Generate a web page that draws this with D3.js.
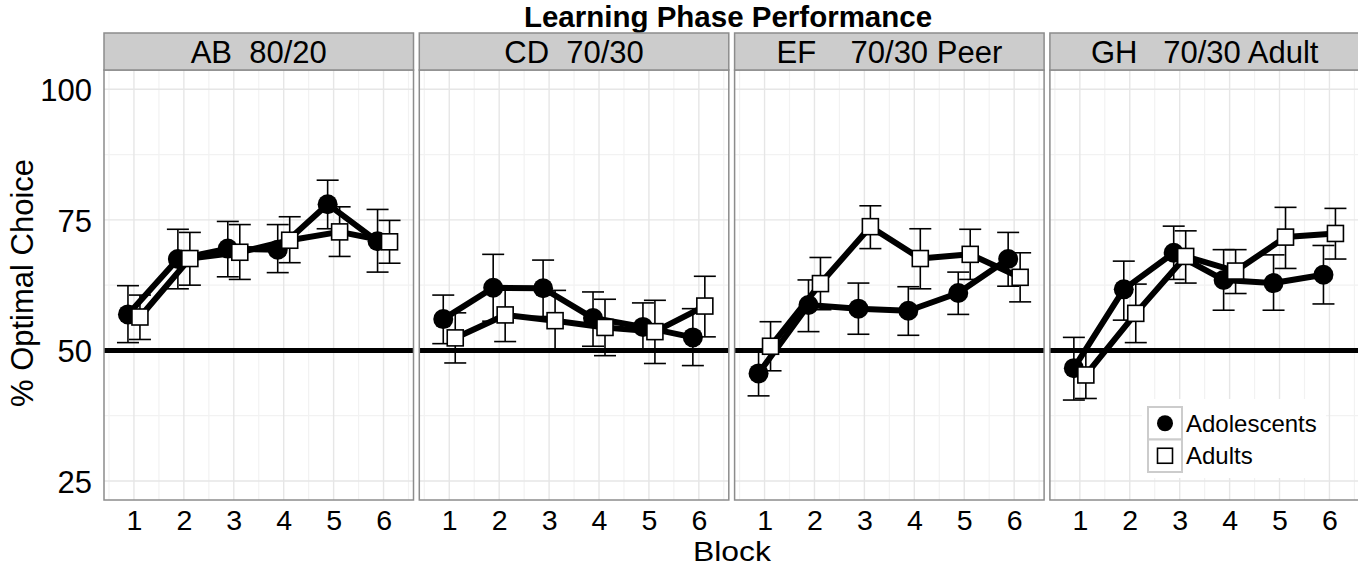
<!DOCTYPE html>
<html><head><meta charset="utf-8">
<script src="https://cdn.jsdelivr.net/npm/d3@7"></script>
<style>body{margin:0;background:#fff}text{font-family:"Liberation Sans",Arial,sans-serif}</style>
</head><body>
<svg id="c" width="1358" height="567"></svg>
<script>
const panels = ["AB  80/20", "CD  70/30", "EF    70/30 Peer", "GH   70/30 Adult"];
const blocks = [1, 2, 3, 4, 5, 6];
const yTicks = [25, 50, 75, 100];
const groups = ["Adolescents", "Adults"];
const adoMean = [[56.9,67.5,69.5,69.3,78.0,70.9],[56.0,62.0,61.9,56.2,54.5,52.5],[45.6,58.7,58.0,57.6,61.0,67.5],[46.6,61.7,68.7,63.5,62.9,64.5]];
const adoLo   = [[51.5,61.8,64.1,64.9,73.3,65.0],[51.3,55.6,56.5,50.8,49.9,47.1],[41.3,53.6,53.1,52.9,56.9,62.3],[40.5,55.8,63.6,57.7,57.7,58.9]];
const adoHi   = [[62.4,73.2,74.7,74.1,82.6,77.0],[60.6,68.4,67.3,61.2,59.1,58.0],[49.9,63.5,62.9,62.2,65.0,72.6],[52.5,67.1,73.8,69.3,68.3,70.1]];
const adultMean = [[56.4,67.6,68.8,71.1,72.7,70.8],[52.4,56.8,55.7,54.4,53.6,58.5],[50.8,62.8,73.7,67.6,68.4,64.0],[45.3,57.1,68.0,65.2,71.7,72.4]];
const adultLo   = [[52.1,62.5,63.6,66.8,68.0,66.7],[47.6,51.7,50.1,49.0,47.5,52.6],[46.1,57.8,69.5,61.8,63.6,59.3],[40.8,51.5,62.9,60.9,65.7,67.5]];
const adultHi   = [[60.6,72.6,74.1,75.6,77.5,74.9],[57.2,61.8,61.5,59.8,59.6,64.2],[55.5,67.8,77.7,73.3,73.2,68.7],[49.8,62.7,72.9,69.3,77.4,77.2]];
const chance = 50;

const svg = d3.select("#c");
const plotTop = 70, plotBottom = 500, stripTop = 33;
const pw = 309.5, step = 315.3, left0 = 104;
const y = d3.scaleLinear().domain([21.36, 103.7]).range([plotBottom, plotTop]);
const dodge = 0.12;

svg.append("text").attr("x", 728).attr("y", 27).attr("text-anchor", "middle")
  .attr("font-size", 29.5).attr("font-weight", "bold").text("Learning Phase Performance");

panels.forEach((name, p) => {
  const px = left0 + p * step;
  const x = d3.scaleLinear().domain([0.4, 6.6]).range([px, px + pw]);
  const g = svg.append("g");
  g.append("rect").attr("x", px).attr("y", plotTop).attr("width", pw).attr("height", plotBottom - plotTop).attr("fill", "#fff");
  const minorX = d3.range(0.5, 7, 1);
  const minorY = [37.5, 62.5, 87.5];
  g.selectAll(".mx").data(minorX).join("line").attr("x1", d => x(d)).attr("x2", d => x(d))
    .attr("y1", plotTop).attr("y2", plotBottom).attr("stroke", "#f2f2f2").attr("stroke-width", 1.2);
  g.selectAll(".my").data(minorY).join("line").attr("y1", d => y(d)).attr("y2", d => y(d))
    .attr("x1", px).attr("x2", px + pw).attr("stroke", "#f2f2f2").attr("stroke-width", 1.2);
  g.selectAll(".gx").data(blocks).join("line").attr("x1", d => x(d)).attr("x2", d => x(d))
    .attr("y1", plotTop).attr("y2", plotBottom).attr("stroke", "#e6e6e6").attr("stroke-width", 1.4);
  g.selectAll(".gy").data(yTicks).join("line").attr("y1", d => y(d)).attr("y2", d => y(d))
    .attr("x1", px).attr("x2", px + pw).attr("stroke", "#e6e6e6").attr("stroke-width", 1.4);

  if (p === panels.length - 1) {
    g.append("rect").attr("x", 1142).attr("y", 399).attr("width", 184).attr("height", 79).attr("fill", "#fff");
  }

  g.append("line").attr("x1", px).attr("x2", px + pw).attr("y1", y(chance)).attr("y2", y(chance))
    .attr("stroke", "#000").attr("stroke-width", 5);

  const series = [
    {mean: adoMean[p], lo: adoLo[p], hi: adoHi[p], off: -dodge, shape: "circle"},
    {mean: adultMean[p], lo: adultLo[p], hi: adultHi[p], off: dodge, shape: "square"}
  ];
  const line = d3.line().x(d => x(d[0])).y(d => y(d[1]));
  series.forEach(s => {
    g.append("path").datum(blocks.map((b, i) => [b + s.off, s.mean[i]]))
      .attr("d", line).attr("fill", "none").attr("stroke", "#000").attr("stroke-width", 6).attr("stroke-linejoin", "round");
  });
  series.forEach(s => {
    blocks.forEach((b, i) => {
      const cx = x(b + s.off);
      g.append("line").attr("x1", cx).attr("x2", cx).attr("y1", y(s.lo[i])).attr("y2", y(s.hi[i]))
        .attr("stroke", "#000").attr("stroke-width", 1.6);
      [s.lo[i], s.hi[i]].forEach(v => {
        g.append("line").attr("x1", cx - 11).attr("x2", cx + 11).attr("y1", y(v)).attr("y2", y(v))
          .attr("stroke", "#000").attr("stroke-width", 1.6);
      });
    });
  });
  series.forEach(s => {
    blocks.forEach((b, i) => {
      const cx = x(b + s.off), cy = y(s.mean[i]);
      if (s.shape === "circle") {
        g.append("circle").attr("cx", cx).attr("cy", cy).attr("r", 10).attr("fill", "#000");
      } else {
        g.append("rect").attr("x", cx - 8).attr("y", cy - 8).attr("width", 16).attr("height", 16)
          .attr("fill", "#fff").attr("stroke", "#000").attr("stroke-width", 1.6);
      }
    });
  });

  g.append("rect").attr("x", px).attr("y", plotTop).attr("width", pw).attr("height", plotBottom - plotTop)
    .attr("fill", "none").attr("stroke", "#8c8c8c").attr("stroke-width", 1.5);
  g.append("rect").attr("x", px).attr("y", stripTop).attr("width", pw).attr("height", plotTop - stripTop)
    .attr("fill", "#cccccc").attr("stroke", "#8c8c8c").attr("stroke-width", 1.5);
  g.append("text").attr("x", px + pw / 2).attr("y", 63).attr("text-anchor", "middle")
    .attr("font-size", 31).style("white-space", "pre").text(name);

  const xa = d3.axisBottom(x).tickValues(blocks).tickSize(0).tickPadding(0).tickFormat(d3.format("d"));
  const ax = g.append("g").attr("transform", `translate(0,${plotBottom})`).call(xa);
  ax.select(".domain").remove();
  ax.selectAll("text").attr("font-size", 28.5).attr("fill", "#000").attr("dy", null).attr("y", 29.5)
    .style("font-family", '"Liberation Sans",Arial,sans-serif');
});

const ya = d3.axisLeft(y).tickValues(yTicks).tickSize(0).tickPadding(0);
const ay = svg.append("g").attr("transform", `translate(92,0)`).call(ya);
ay.select(".domain").remove();
ay.selectAll("text").attr("font-size", 31).attr("fill", "#000").attr("dy", "0.36em")
  .style("font-family", '"Liberation Sans",Arial,sans-serif');

svg.append("text").attr("transform", "translate(732,561) scale(1.12,1)").attr("text-anchor", "middle")
  .attr("font-size", 28.5).text("Block");
svg.append("text").attr("transform", "translate(33,283) rotate(-90)").attr("text-anchor", "middle")
  .attr("font-size", 31).text("% Optimal Choice");

const lg = svg.append("g");
const keyX = 1148, keyY = 407, keyW = 34, keyH = 32.5;
groups.forEach((gname, i) => {
  const ky = keyY + i * keyH;
  lg.append("rect").attr("x", keyX).attr("y", ky).attr("width", keyW).attr("height", keyH)
    .attr("fill", "#fff").attr("stroke", "#cccccc").attr("stroke-width", 2);
  if (i === 0) {
    lg.append("circle").attr("cx", keyX + keyW / 2).attr("cy", ky + keyH / 2).attr("r", 8).attr("fill", "#000");
  } else {
    lg.append("rect").attr("x", keyX + keyW / 2 - 7.5).attr("y", ky + keyH / 2 - 7.5).attr("width", 15).attr("height", 15)
      .attr("fill", "#fff").attr("stroke", "#000").attr("stroke-width", 1.6);
  }
  lg.append("text").attr("x", 1186).attr("y", ky + keyH / 2 + 8.5).attr("font-size", 24).text(gname);
});
</script>
</body></html>
